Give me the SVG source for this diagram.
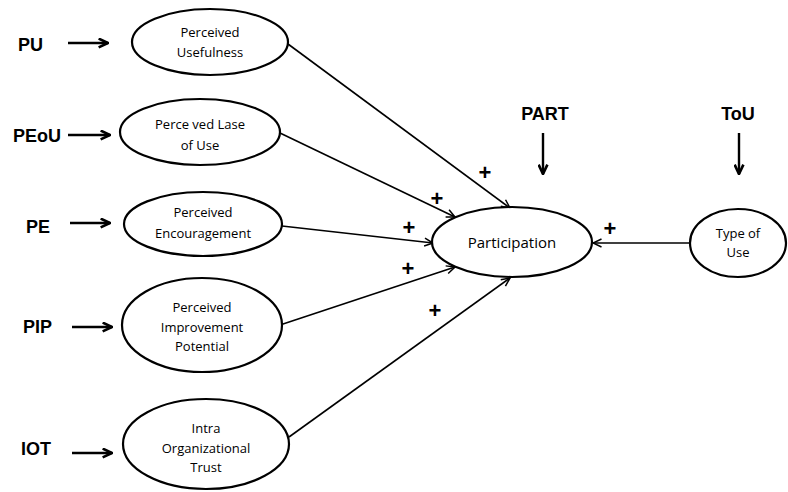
<svg xmlns="http://www.w3.org/2000/svg" width="788" height="492" viewBox="0 0 788 492">
  <defs>
    <style>
      .node ellipse { fill: #ffffff; stroke: #000000; stroke-width: 2.2; }
      .node text { font-family: "Open Sans", "Liberation Sans", sans-serif; font-size: 13px; fill: #000000; text-anchor: middle; }
      .node text.big { font-size: 15px; }
      .label { font-family: "Liberation Sans", Arial, sans-serif; font-weight: bold; font-size: 18px; fill: #000000; }
      .plus { font-family: "Liberation Sans", Arial, sans-serif; font-weight: bold; font-size: 22px; fill: #000000; text-anchor: middle; }
      .link { stroke: #000000; stroke-width: 1.6; fill: none; marker-end: url(#open); }
      .pointer { stroke: #000000; stroke-width: 2.4; fill: none; marker-end: url(#solid); }
    </style>
    <marker id="open" viewBox="0 0 10 10" refX="9.5" refY="5" markerWidth="10" markerHeight="10" markerUnits="userSpaceOnUse" orient="auto">
      <path d="M1,1 L9.5,5 L1,9" fill="none" stroke="#000" stroke-width="1.5"/>
    </marker>
    <marker id="solid" viewBox="0 0 10 10" refX="9.5" refY="5" markerWidth="11" markerHeight="11" markerUnits="userSpaceOnUse" orient="auto">
      <path d="M1,1 L9.5,5 L1,9" fill="none" stroke="#000" stroke-width="2.4" stroke-linejoin="miter"/>
    </marker>
  </defs>
  <rect width="788" height="492" fill="#ffffff"/>

  <!-- construct abbreviations with their pointer arrows -->
  <g id="labels">
    <text class="label" x="18" y="51">PU</text>
    <text class="label" x="13" y="142">PEoU</text>
    <text class="label" x="26" y="233">PE</text>
    <text class="label" x="23" y="333">PIP</text>
    <text class="label" x="21" y="455">IOT</text>
    <text class="label" x="545" y="120" text-anchor="middle">PART</text>
    <text class="label" x="738" y="120" text-anchor="middle">ToU</text>
    <line class="pointer" x1="68" y1="43" x2="108" y2="43"/>
    <line class="pointer" x1="68" y1="135" x2="110" y2="135"/>
    <line class="pointer" x1="70" y1="223" x2="110" y2="223"/>
    <line class="pointer" x1="72" y1="327" x2="112" y2="327"/>
    <line class="pointer" x1="72" y1="453" x2="112" y2="453"/>
    <line class="pointer" x1="543" y1="133" x2="543" y2="174"/>
    <line class="pointer" x1="739" y1="133" x2="739" y2="174"/>
  </g>

  <!-- connectors into Participation -->
  <g id="connectors">
    <line class="link" x1="288" y1="44" x2="510" y2="208"/>
    <line class="link" x1="280" y1="133" x2="455" y2="217"/>
    <line class="link" x1="282" y1="226" x2="433" y2="243"/>
    <line class="link" x1="280" y1="325" x2="455" y2="267"/>
    <line class="link" x1="289" y1="437" x2="510" y2="278"/>
    <line class="link" x1="690" y1="243" x2="593" y2="243"/>
    <text class="plus" x="485" y="180">+</text>
    <text class="plus" x="437" y="206">+</text>
    <text class="plus" x="409" y="235">+</text>
    <text class="plus" x="408" y="276">+</text>
    <text class="plus" x="435" y="318">+</text>
    <text class="plus" x="610" y="236">+</text>
  </g>

  <g id="pu" class="node">
    <ellipse cx="210" cy="42" rx="78" ry="33"/>
    <text x="210" y="37">Perceived</text>
    <text x="210" y="57">Usefulness</text>
  </g>

  <g id="peou" class="node">
    <ellipse cx="200" cy="132" rx="80" ry="33"/>
    <text x="200" y="129">Perce ved Lase</text>
    <text x="200" y="150">of Use</text>
  </g>

  <g id="pe" class="node">
    <ellipse cx="203" cy="224" rx="79" ry="32"/>
    <text x="203" y="217">Perceived</text>
    <text x="203" y="238">Encouragement</text>
  </g>

  <g id="pip" class="node">
    <ellipse cx="202" cy="325" rx="80" ry="47"/>
    <text x="202" y="312">Perceived</text>
    <text x="202" y="332">Improvement</text>
    <text x="202" y="351">Potential</text>
  </g>

  <g id="iot" class="node">
    <ellipse cx="206" cy="444" rx="83" ry="45"/>
    <text x="206" y="433">Intra</text>
    <text x="206" y="453">Organizational</text>
    <text x="206" y="472">Trust</text>
  </g>

  <g id="participation" class="node">
    <ellipse cx="512" cy="242" rx="80" ry="35"/>
    <text class="big" x="512" y="248">Participation</text>
  </g>

  <g id="tou" class="node">
    <ellipse cx="738" cy="243" rx="48" ry="34"/>
    <text x="738" y="238">Type of</text>
    <text x="738" y="257">Use</text>
  </g>
</svg>
